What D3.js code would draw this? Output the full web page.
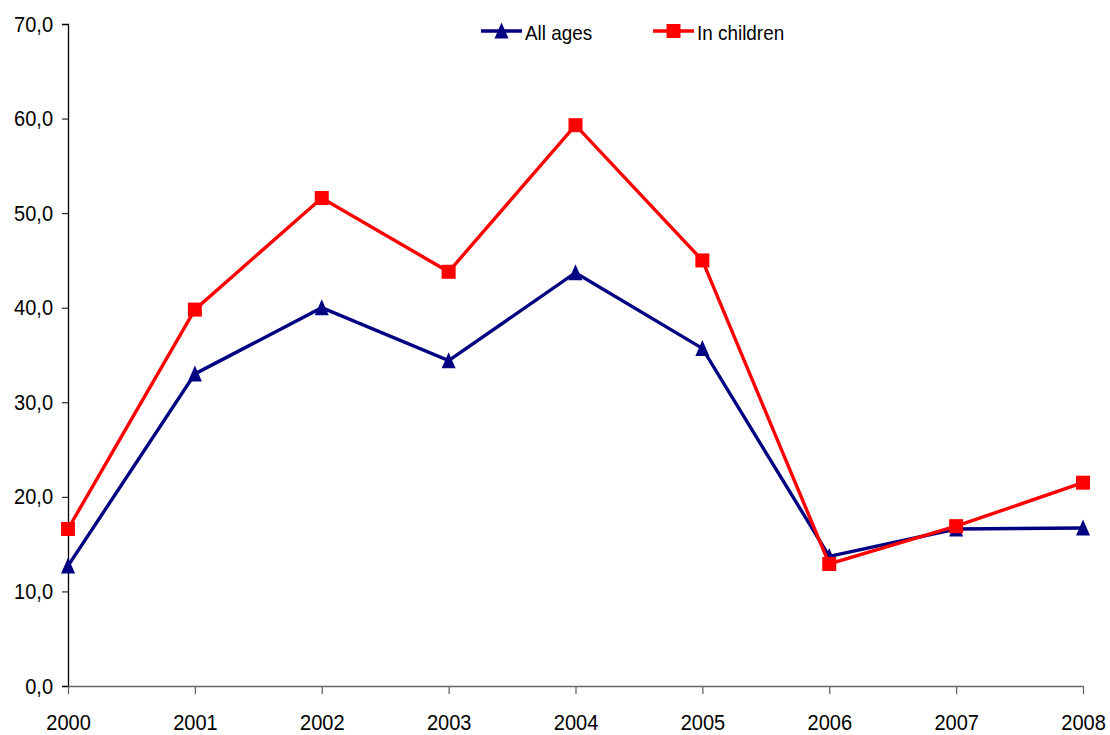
<!DOCTYPE html>
<html><head><meta charset="utf-8">
<script src="https://cdn.jsdelivr.net/npm/d3@7/dist/d3.min.js"></script>
<style>body{margin:0;background:#fff}text{font-family:"Liberation Sans Narrow","Arial Narrow","Liberation Sans",Arial,sans-serif;fill:#000}</style>
</head><body><svg id="c" width="1110" height="735"></svg>
<script>
const years = ["2000","2001","2002","2003","2004","2005","2006","2007","2008"];
const allAges = [12.7,33.0,40.0,34.4,43.7,35.7,13.7,16.6,16.7];
const inChildren = [16.6,39.8,51.6,43.8,59.3,45.0,12.9,16.9,21.5];
const yTicks = [0,10,20,30,40,50,60,70];
const seriesNames = ["All ages","In children"];

const svg = d3.select("#c");
const x = d3.scalePoint().domain(years).range([68,1083]);
const y = d3.scaleLinear().domain([0,70]).range([686,24]);
const fmt = d => d.toFixed(1).replace(".",",");
const SX = 0.91;

const yAxis = svg.append("g").attr("transform","translate(68,0)")
  .call(d3.axisLeft(y).tickValues(yTicks).tickFormat(fmt).tickSize(6).tickPadding(9));
yAxis.select(".domain").attr("stroke","#000").attr("stroke-width",1.3);
yAxis.selectAll(".tick line").attr("stroke","#000");
yAxis.selectAll("text").attr("font-size",22).attr("x",-15/SX).attr("transform",`scale(${SX},1)`);

const xAxis = svg.append("g").attr("transform","translate(0,686)")
  .call(d3.axisBottom(x).tickSize(8).tickSizeOuter(0).tickPadding(20));
xAxis.select(".domain").attr("stroke","#666").attr("stroke-width",1.5);
xAxis.selectAll(".tick line").attr("stroke","#666").attr("stroke-width",1.3);
xAxis.selectAll("text").attr("font-size",22).attr("transform",`scale(${SX},1)`);

const line = d3.line().x((d,i)=>x(years[i])).y(d=>y(d));
const tri = "M0,-8.5L7,7.5L-7,7.5Z";
const sq = "M-7,-7H7V7H-7Z";

const series = [
  {name:seriesNames[0], vals:allAges, color:"#000080", sym:tri},
  {name:seriesNames[1], vals:inChildren, color:"#ff0000", sym:sq}
];
series.forEach(s=>{
  svg.append("path").datum(s.vals).attr("d",line).attr("fill","none")
    .attr("stroke",s.color).attr("stroke-width",3.4);
  svg.selectAll(null).data(s.vals).enter().append("path")
    .attr("d",s.sym).attr("fill",s.color)
    .attr("transform",(d,i)=>`translate(${x(years[i])},${y(d)})`);
});

const leg = [{x:481},{x:653}];
series.forEach((s,i)=>{
  const g = svg.append("g").attr("transform",`translate(${leg[i].x},31)`);
  g.append("line").attr("x1",0).attr("x2",41).attr("stroke",s.color).attr("stroke-width",3.4);
  g.append("path").attr("d",s.sym).attr("fill",s.color).attr("transform","translate(20.5,0)");
  g.append("text").attr("transform","translate(44,8.5) scale(0.9,1)").attr("font-size",21).text(s.name);
});
</script></body></html>
